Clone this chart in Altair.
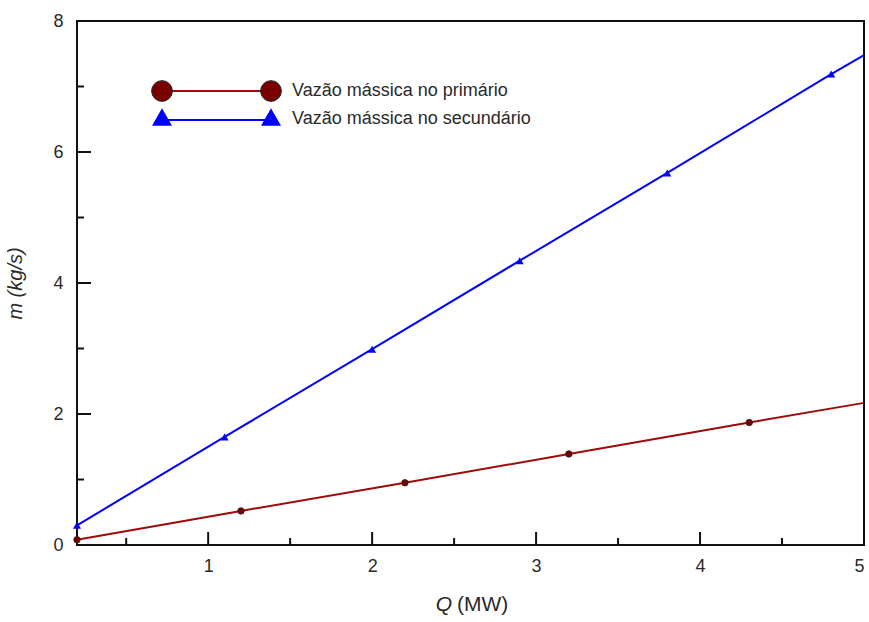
import altair as alt
import pandas as pd

# ---- data ----
prim_q = [0.2, 1.2, 2.2, 3.2, 4.3]
prim_m = [0.08, 0.52, 0.95, 1.39, 1.87]
prim_end_q = 5.0
prim_end_m = 2.17

sec_q = [0.2, 1.1, 2.0, 2.9, 3.8, 4.8]
sec_m = [0.30, 1.65, 2.99, 4.34, 5.68, 7.19]
sec_end_q = 5.0
sec_end_m = 7.48

x_major = [1, 2, 3, 4]
x_minor = [0.5, 1.5, 2.5, 3.5, 4.5]
y_major = [0, 2, 4, 6, 8]
y_minor = [1, 3, 5, 7]

x_labels = [1, 2, 3, 4, 5]
y_labels = [0, 2, 4, 6, 8]

legend_labels = ["Vazão mássica no primário", "Vazão mássica no secundário"]

RED = "#7A0000"
RED_LINE = "#9E0B0B"
BLUE = "#0000FF"
W, H = 787, 524
FONT = "Liberation Sans"
TXT = "#2a2a2a"

xs = alt.Scale(domain=[0.2, 5], nice=False, zero=False)
ys = alt.Scale(domain=[0, 8], nice=False)

prim_line = pd.DataFrame({"Q": prim_q + [prim_end_q], "m": prim_m + [prim_end_m]})
sec_line = pd.DataFrame({"Q": sec_q + [sec_end_q], "m": sec_m + [sec_end_m]})
prim_pts = pd.DataFrame({"Q": prim_q, "m": prim_m})
sec_pts = pd.DataFrame({"Q": sec_q, "m": sec_m})

X = alt.X("Q:Q", scale=xs, axis=alt.Axis(values=x_labels, title=None, ticks=False, domain=False,
                                         grid=False, labelPadding=12, labelFontSize=18,
                                         labelColor=TXT, labelFont=FONT, format="d"))
Y = alt.Y("m:Q", scale=ys, axis=alt.Axis(values=y_labels, title="m (kg/s)", ticks=False, domain=False,
                                         grid=False, labelPadding=14, labelFontSize=18,
                                         labelColor=TXT, labelFont=FONT, format="d",
                                         titleFontStyle="italic", titleFontWeight="normal",
                                         titleFontSize=20, titleColor=TXT, titleFont=FONT,
                                         titlePadding=27))

base_sec = alt.Chart(sec_line).mark_line(color=BLUE, strokeWidth=2).encode(x=X, y=Y)
base_prim = alt.Chart(prim_line).mark_line(color=RED_LINE, strokeWidth=2).encode(
    x=alt.X("Q:Q", scale=xs), y=alt.Y("m:Q", scale=ys))
pts_prim = alt.Chart(prim_pts).mark_point(shape="circle", filled=True, size=42, color=RED, opacity=1,
                                          stroke="#222", strokeWidth=0.8).encode(
    x=alt.X("Q:Q", scale=xs), y=alt.Y("m:Q", scale=ys))
pts_sec = alt.Chart(sec_pts).mark_point(shape="triangle-up", filled=True, size=65, color=BLUE,
                                        opacity=1).encode(
    x=alt.X("Q:Q", scale=xs), y=alt.Y("m:Q", scale=ys))

# inward ticks
xt_major = alt.Chart(pd.DataFrame({"t": x_major})).mark_rule(color="#111", strokeWidth=2).encode(
    x=alt.X("t:Q", scale=xs), y=alt.value(H), y2=alt.value(H - 13))
xt_minor = alt.Chart(pd.DataFrame({"t": x_minor})).mark_rule(color="#111", strokeWidth=2).encode(
    x=alt.X("t:Q", scale=xs), y=alt.value(H), y2=alt.value(H - 7))
yt_major = alt.Chart(pd.DataFrame({"t": y_major})).mark_rule(color="#111", strokeWidth=2).encode(
    y=alt.Y("t:Q", scale=ys), x=alt.value(0), x2=alt.value(14))
yt_minor = alt.Chart(pd.DataFrame({"t": y_minor})).mark_rule(color="#111", strokeWidth=2).encode(
    y=alt.Y("t:Q", scale=ys), x=alt.value(0), x2=alt.value(7))

# x title with italic Q
xt_q = alt.Chart(pd.DataFrame({"s": ["Q"]})).mark_text(
    font=FONT, fontSize=21, fontStyle="italic", color=TXT, align="right", baseline="middle").encode(
    text="s:N", x=alt.value(375), y=alt.value(584))
xt_u = alt.Chart(pd.DataFrame({"s": ["(MW)"]})).mark_text(
    font=FONT, fontSize=21, color=TXT, align="left", baseline="middle").encode(
    text="s:N", x=alt.value(380), y=alt.value(584))

# legend
leg_l1 = alt.Chart(pd.DataFrame({"s": [legend_labels[0]]})).mark_rule(color=RED_LINE, strokeWidth=2).encode(
    x=alt.value(85), x2=alt.value(194), y=alt.value(70))
leg_l2 = alt.Chart(pd.DataFrame({"s": [legend_labels[1]]})).mark_rule(color=BLUE, strokeWidth=2).encode(
    x=alt.value(85), x2=alt.value(194), y=alt.value(99))
leg_c1 = alt.Chart(pd.DataFrame({"s": [legend_labels[0]]})).mark_point(
    shape="circle", filled=True, size=430, color=RED, opacity=1, stroke="#222", strokeWidth=1).encode(
    x=alt.value(85), y=alt.value(70))
leg_c2 = alt.Chart(pd.DataFrame({"s": [legend_labels[0]]})).mark_point(
    shape="circle", filled=True, size=430, color=RED, opacity=1, stroke="#222", strokeWidth=1).encode(
    x=alt.value(194), y=alt.value(70))
leg_t1 = alt.Chart(pd.DataFrame({"s": [legend_labels[1]]})).mark_point(
    shape="triangle-up", filled=True, size=400, color=BLUE, opacity=1).encode(x=alt.value(85), y=alt.value(96))
leg_t2 = alt.Chart(pd.DataFrame({"s": [legend_labels[1]]})).mark_point(
    shape="triangle-up", filled=True, size=400, color=BLUE, opacity=1).encode(x=alt.value(194), y=alt.value(96))
leg_txt = alt.Chart(pd.DataFrame({"s": legend_labels, "yy": [70, 98]})).mark_text(
    font=FONT, fontSize=18, color=TXT, align="left", baseline="middle").encode(
    text="s:N", x=alt.value(215), y=alt.Y("yy:Q", scale=None))

chart = alt.layer(
    base_sec, base_prim, pts_prim, pts_sec,
    xt_major, xt_minor, yt_major, yt_minor,
    xt_q, xt_u,
    leg_l1, leg_l2, leg_c1, leg_c2, leg_t1, leg_t2, leg_txt,
).properties(
    width=W, height=H,
    autosize=alt.AutoSizeParams(type="none"),
    padding={"left": 77, "top": 21, "right": 5, "bottom": 77},
    background="white",
).configure_view(
    stroke="#111", strokeWidth=2
)

chart.save("out.html", embed_options={"renderer": "svg", "actions": False})
